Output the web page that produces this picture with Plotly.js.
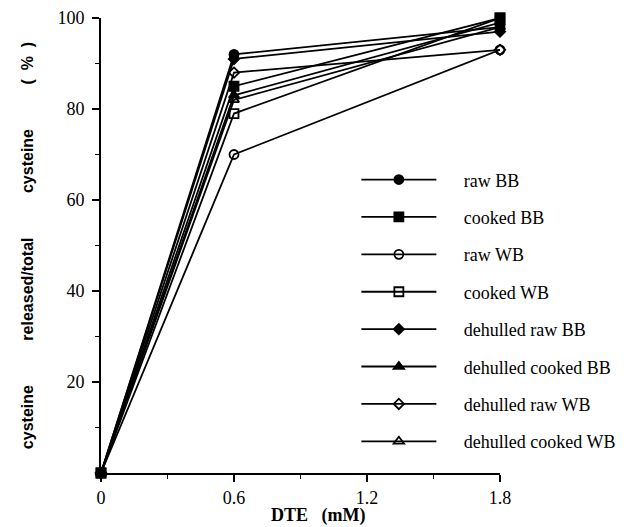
<!DOCTYPE html>
<html>
<head>
<meta charset="utf-8">
<script src="https://cdn.plot.ly/plotly-3.0.1.min.js"></script>
<style>html,body{margin:0;padding:0;background:#fff;}#chart{width:626px;height:527px;}</style>
</head>
<body>
<div id="chart"></div>
<script>
// DTE concentration (mM)
const dte = [0, 0.6, 1.8];

// Series names
const seriesNames = ["raw BB", "cooked BB", "raw WB", "cooked WB",
  "dehulled raw BB", "dehulled cooked BB", "dehulled raw WB", "dehulled cooked WB"];

// cysteine released / total cysteine (%)
const rawBB = [0, 92, 98];
const cookedBB = [0, 85, 100];
const rawWB = [0, 70, 93];
const cookedWB = [0, 79, 100];
const dehulledRawBB = [0, 91, 97];
const dehulledCookedBB = [0, 83, 99];
const dehulledRawWB = [0, 88, 93];
const dehulledCookedWB = [0, 82, 98];

// tick labels
const xTickVals = [0, 0.6, 1.2, 1.8];
const xTickText = ["0", "0.6", "1.2", "1.8"];
const yTickVals = [20, 40, 60, 80, 100];

const seriesValues = [rawBB, cookedBB, rawWB, cookedWB, dehulledRawBB, dehulledCookedBB, dehulledRawWB, dehulledCookedWB];
const symbols = ["circle", "square", "circle-open", "square-open", "diamond", "triangle-up", "diamond-open", "triangle-up-open"];
const sizes = [9, 9, 9, 9, 8, 9, 8, 9];

const pad = "\u00a0\u00a0\u00a0\u00a0\u00a0";
const traces = seriesValues.map((vals, i) => ({
  x: dte,
  y: vals,
  name: pad + seriesNames[i],
  legendgroup: "g" + i,
  legendrank: i + 1,
  type: "scatter",
  mode: "lines+markers",
  cliponaxis: false,
  line: {color: "#000", width: 1.8},
  marker: {symbol: symbols[i], size: sizes[i], color: "#000", line: {color: "#000", width: 1.8}}
})).reverse();

const serif = "Liberation Serif, Times New Roman, serif";
const sp = "\u00a0".repeat(10);

const layout = {
  width: 626, height: 527,
  margin: {l: 101, r: 126, t: 18, b: 54, autoexpand: false},
  paper_bgcolor: "#fff", plot_bgcolor: "#fff",
  showlegend: true,
  legend: {
    x: 0.64, y: 0.685, xanchor: "left", yanchor: "top",
    traceorder: "grouped",
    bgcolor: "rgba(0,0,0,0)",
    font: {family: serif, size: 18, color: "#000"},
    tracegroupgap: 11,
    itemwidth: 75
  },
  xaxis: {
    range: [0, 1.8],
    tickvals: xTickVals,
    ticktext: xTickText,
    ticks: "outside", ticklen: 7, tickwidth: 2, tickcolor: "#000",
    minor: {dtick: 0.3, ticks: "outside", ticklen: 4, tickwidth: 1.5, tickcolor: "#000"},
    showline: true, linecolor: "#000", linewidth: 2,
    showgrid: false, zeroline: false,
    tickfont: {family: serif, size: 18, color: "#000"}
  },
  yaxis: {
    range: [0, 100],
    tickvals: yTickVals,
    ticks: "outside", ticklen: 7, tickwidth: 2, tickcolor: "#000",
    ticklabelstandoff: 4,
    minor: {dtick: 10, ticks: "outside", ticklen: 4, tickwidth: 1.5, tickcolor: "#000"},
    showline: true, linecolor: "#000", linewidth: 2,
    showgrid: false, zeroline: false,
    tickfont: {family: serif, size: 18, color: "#000"},
    title: {text: "<b>cysteine" + sp + "released/total" + sp + "cysteine" + sp + "(\u00a0\u00a0%\u00a0\u00a0)</b>", font: {family: "Liberation Sans, Arial, sans-serif", size: 16, color: "#000"}, standoff: 20}
  },
  annotations: [{
    x: 0.545, y: 0, xref: "paper", yref: "paper", yanchor: "top",
    text: "<b>DTE\u00a0\u00a0\u00a0(mM)</b>", showarrow: false,
    yshift: -30, font: {family: serif, size: 18, color: "#000"}
  }]
};

Plotly.newPlot("chart", traces, layout, {displayModeBar: false, staticPlot: true});
</script>
</body>
</html>
